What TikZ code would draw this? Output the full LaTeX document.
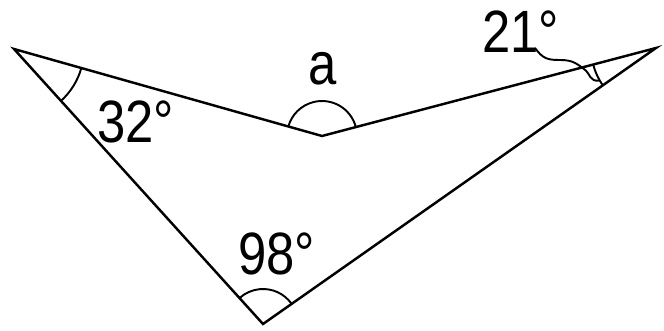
\documentclass[tikz,border=0pt]{standalone}
\usepackage{fontspec}
\setmainfont{Liberation Sans}[FakeStretch=0.85]
\usetikzlibrary{angles,calc}

\begin{document}
\begin{tikzpicture}[x=0.02cm,y=0.02cm,
  edgeline/.style={line width=1.4pt,line join=miter},
  anglemark/.style={draw,line width=1.1pt,angle radius=#1},
  degreelabel/.style={anchor=base west,inner sep=0pt,font=\fontsize{34}{34}\selectfont}
]
  \useasboundingbox (0,0) rectangle (664,331);
  % corners of the concave quadrilateral
  \coordinate (L) at (14,282);
  \coordinate (M) at (322,195);
  \coordinate (R) at (656,283);
  \coordinate (B) at (263,7);
  \draw[edgeline] (L) -- (M) -- (R) -- (B) -- cycle;

  \pic[anglemark=1.4cm] {angle=B--L--M};
  \pic[anglemark=0.7cm] {angle=R--M--L};
  \pic[anglemark=0.7cm] {angle=R--B--L};
  \pic[anglemark=1.3cm] {angle=M--R--B};

  \node[degreelabel] (lab32) at (97,188) {32°};
  \node[degreelabel] (laba) at (308,246) {a};
  \node[degreelabel] (lab98) at (238,56) {98°};
  \node[degreelabel] (lab21) at (482,278) {21°};

  % wavy leader to the small angle
  \coordinate (arcmid) at ($(R)+(210:1.3cm)$);
  \draw[line width=1.1pt] (535,283) .. controls (543,272) and (548,271) .. (560,271)
    .. controls (572,271) and (576,268) .. (584,262)
    .. controls (591,257) and (589,249) .. (arcmid);
\end{tikzpicture}
\end{document}
